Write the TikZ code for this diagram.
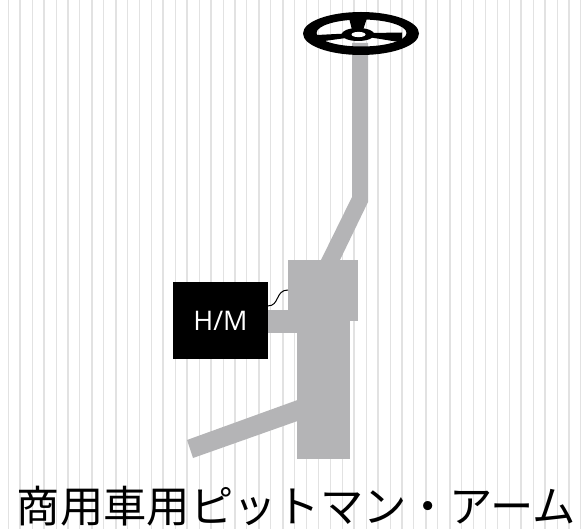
\documentclass[tikz,border=0pt]{standalone}
\usepackage{fontspec}
\usepackage{xcolor}
\newfontfamily\jpfont{Noto Sans CJK JP}
\newfontfamily\boxfont{Open Sans}
\definecolor{stripe}{RGB}{226,226,226}
\definecolor{steel}{RGB}{180,180,182}

\begin{document}
\begin{tikzpicture}[x=1pt,y=-1pt]
	\tikzset{part/.style={fill=steel,draw=none,inner sep=0pt,outer sep=0pt}}
	\tikzset{unit/.style={fill=black,text=white,inner sep=0pt,outer sep=0pt,font=\boxfont\fontsize{27}{27}\selectfont}}
	\tikzset{caption/.style={inner sep=0pt,font=\jpfont\fontsize{43.3}{43.3}\selectfont}}
	\useasboundingbox (0,0) rectangle (583,529);
	\fill[white] (0,0) rectangle (583,529);
	\foreach \i in {0,...,48}{
		\pgfmathsetmacro\sx{8.3+11.93*\i}
		\pgfmathsetmacro\sw{isodd(\i)?1.8:1}
		\draw[stripe,line width=\sw pt] (\sx,0) -- (\sx,529);
	}
	\fill[steel] (352,43) -- (368,43) -- (368,202) -- (339,262) -- (320,262) -- (352,197) -- cycle;
	\node[part,minimum width=70pt,minimum height=61pt] (gearbox) at (323,290.5) {};
	\node[part,minimum width=53pt,minimum height=138pt] (housing) at (323.5,389.5) {};
	\node[part,minimum width=30pt,minimum height=23pt] (stub) at (282.5,321.5) {};
	\fill[steel] (187,440) -- (193,458) -- (297.5,421) -- (297.5,400) -- cycle;
	\node[unit,minimum width=95pt,minimum height=77pt] (hm) at (220.5,320.5) {H/M};
	\coordinate (w1) at (267.5,306);
	\coordinate (w2) at (288,290);
	\draw[line width=1pt] (w1) .. controls (280,306) and (275,290) .. (w2);
	% steering wheel
	\fill[even odd rule] (361,33.5) ellipse [x radius=58pt,y radius=21.5pt]
		(361.5,33) ellipse [x radius=45pt,y radius=13.5pt];
	\fill (349,18) -- (367,18) -- (363,30) -- (352,30) -- cycle;
	\fill (346,33.5) -- (346,38) -- (317,42) -- (317,35) -- cycle;
	\fill (371,33) -- (371,37.5) -- (402,42.5) -- (402,32.5) -- cycle;
	\fill (358,34.5) ellipse [x radius=16.5pt,y radius=6.5pt];
	\fill[white] (358.5,34.5) ellipse [x radius=7pt,y radius=2.6pt];
	\node[caption] (title) at (296.5,506) {商用車用ピットマン・アーム};
\end{tikzpicture}
\end{document}
